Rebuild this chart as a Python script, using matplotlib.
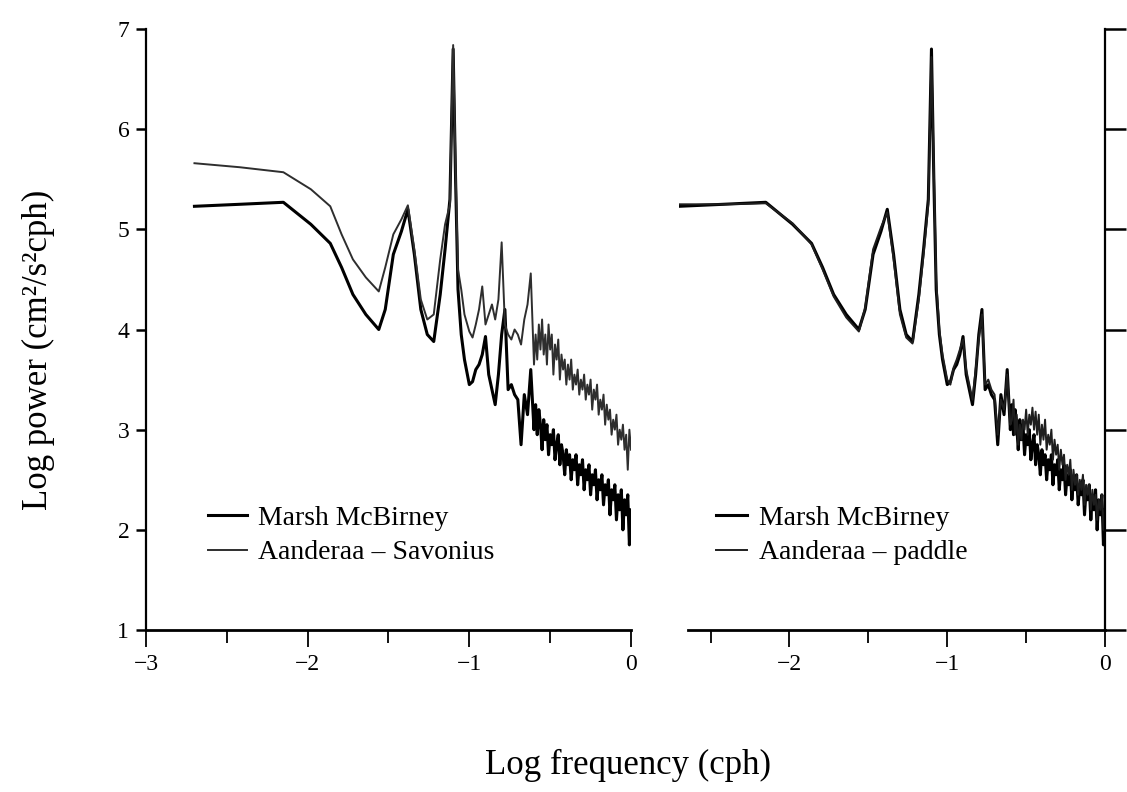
import matplotlib
matplotlib.use("Agg")
import matplotlib.pyplot as plt
from matplotlib.ticker import MultipleLocator

plt.rcParams['font.family'] = ['Liberation Serif', 'DejaVu Serif']

# log frequency grid (cph), shared by all spectra
log_freq = [-2.70, -2.42, -2.15, -1.98, -1.86, -1.79, -1.72, -1.64, -1.56, -1.52,
            -1.47, -1.42, -1.38, -1.34, -1.30, -1.26, -1.22, -1.18, -1.15, -1.12,
            -1.10, -1.085, -1.07, -1.05, -1.03, -1.00, -0.98, -0.96, -0.94, -0.92,
            -0.90, -0.88, -0.86, -0.84, -0.82, -0.80, -0.78, -0.76, -0.74, -0.72,
            -0.70, -0.68, -0.66, -0.64, -0.62, -0.60,
            -0.59, -0.58, -0.57, -0.56, -0.55, -0.54, -0.53, -0.52, -0.51, -0.50,
            -0.49, -0.48, -0.47, -0.46, -0.45, -0.44, -0.43, -0.42, -0.41, -0.40,
            -0.39, -0.38, -0.37, -0.36, -0.35, -0.34, -0.33, -0.32, -0.31, -0.30,
            -0.29, -0.28, -0.27, -0.26, -0.25, -0.24, -0.23, -0.22, -0.21, -0.20,
            -0.19, -0.18, -0.17, -0.16, -0.15, -0.14, -0.13, -0.12, -0.11, -0.10,
            -0.09, -0.08, -0.07, -0.06, -0.05, -0.04, -0.03, -0.02, -0.01, 0.00]

# Marsh McBirney (same record in both panels)
marsh = [5.23, 5.25, 5.27, 5.05, 4.86, 4.62, 4.35, 4.15, 4.00, 4.20,
         4.75, 4.98, 5.20, 4.75, 4.20, 3.95, 3.88, 4.35, 4.80, 5.30,
         6.80, 5.50, 4.40, 3.95, 3.70, 3.45, 3.48, 3.60, 3.65, 3.75,
         3.93, 3.55, 3.40, 3.25, 3.55, 3.95, 4.20, 3.40, 3.45, 3.35,
         3.30, 2.85, 3.35, 3.15, 3.60, 3.00,
         3.25, 2.95, 3.20, 3.05, 2.80, 3.10, 2.90, 3.05, 2.75, 2.95,
         2.85, 3.00, 2.70, 2.85, 2.95, 2.65, 2.85, 2.75, 2.55, 2.80,
         2.65, 2.75, 2.50, 2.70, 2.60, 2.75, 2.45, 2.65, 2.55, 2.70,
         2.40, 2.60, 2.50, 2.65, 2.35, 2.55, 2.45, 2.60, 2.30, 2.50,
         2.40, 2.55, 2.25, 2.45, 2.35, 2.50, 2.15, 2.40, 2.30, 2.45,
         2.10, 2.35, 2.20, 2.40, 2.00, 2.30, 2.15, 2.35, 1.85, 2.20]

# Aanderaa - Savonius (left panel)
savonius = [5.66, 5.62, 5.57, 5.40, 5.23, 4.95, 4.70, 4.52, 4.38, 4.62,
            4.95, 5.10, 5.24, 4.80, 4.30, 4.10, 4.15, 4.70, 5.05, 5.25,
            6.84, 5.60, 4.60, 4.40, 4.15, 3.98, 3.92, 4.05, 4.20, 4.43,
            4.05, 4.15, 4.25, 4.10, 4.30, 4.87, 4.05, 3.95, 3.90, 4.00,
            3.95, 3.85, 4.10, 4.25, 4.56, 3.65,
            3.95, 3.70, 4.05, 3.80, 4.10, 3.75, 3.95, 3.65, 4.05, 3.80,
            3.95, 3.55, 3.85, 3.70, 3.90, 3.50, 3.75, 3.60, 3.70, 3.45,
            3.65, 3.50, 3.70, 3.40, 3.55, 3.45, 3.60, 3.35, 3.50, 3.40,
            3.55, 3.30, 3.45, 3.35, 3.50, 3.20, 3.40, 3.30, 3.45, 3.15,
            3.30, 3.20, 3.35, 3.05, 3.25, 3.10, 3.20, 2.95, 3.10, 3.00,
            3.15, 2.85, 3.00, 2.90, 3.05, 2.80, 2.95, 2.60, 3.00, 2.80]

# Aanderaa - paddle (right panel)
paddle = [5.25, 5.25, 5.26, 5.06, 4.85, 4.60, 4.33, 4.12, 3.98, 4.22,
          4.80, 5.02, 5.17, 4.70, 4.15, 3.92, 3.86, 4.30, 4.75, 5.25,
          6.72, 5.60, 4.50, 4.00, 3.75, 3.50, 3.45, 3.62, 3.70, 3.80,
          3.90, 3.60, 3.45, 3.30, 3.60, 3.90, 4.15, 3.45, 3.50, 3.40,
          3.35, 2.95, 3.30, 3.20, 3.55, 3.05,
          3.10, 3.30, 2.95, 3.15, 2.85, 3.05, 2.90, 3.10, 3.00, 3.20,
          2.95, 3.15, 3.05, 3.22, 3.00, 3.18, 2.95, 3.15, 2.85, 3.05,
          2.90, 3.10, 2.80, 2.95, 2.85, 3.00, 2.70, 2.90, 2.75, 2.85,
          2.60, 2.80, 2.65, 2.75, 2.50, 2.65, 2.55, 2.70, 2.40, 2.60,
          2.45, 2.55, 2.35, 2.50, 2.40, 2.55, 2.25, 2.45, 2.35, 2.45,
          2.20, 2.40, 2.25, 2.35, 2.10, 2.30, 2.20, 2.35, 2.00, 2.25]

fig = plt.figure(figsize=(11.27, 7.92), dpi=100)
ax1 = fig.add_axes([0.1295, 0.2045, 0.4304, 0.7589])
ax2 = fig.add_axes([0.6025, 0.2045, 0.378, 0.7589])

# left panel
ax1.plot(log_freq, marsh, color='black', lw=2.2, label='Marsh McBirney')
ax1.plot(log_freq, savonius, color='#2e2e2e', lw=1.4, label='Aanderaa \u2013 Savonius')
ax1.set_xlim(-3, 0)
ax1.set_ylim(1, 7)
ax1.spines['top'].set_visible(False)
ax1.spines['right'].set_visible(False)
ax1.spines['left'].set_linewidth(1.6)
ax1.spines['bottom'].set_linewidth(2.0)
ax1.set_xticks([-3, -2, -1, 0])
ax1.xaxis.set_minor_locator(MultipleLocator(0.5))
ax1.set_yticks([1, 2, 3, 4, 5, 6, 7])
ax1.tick_params(axis='y', direction='out', length=7, width=1.8, labelsize=17, pad=5)
ax1.tick_params(axis='x', which='major', direction='out', length=12, width=1.3, labelsize=17, pad=5)
ax1.tick_params(axis='x', which='minor', direction='out', length=9, width=1.3)
ax1.legend(loc='upper left', bbox_to_anchor=(0.10, 0.23), frameon=False,
           fontsize=20, handlelength=1.4, handletextpad=0.4, borderpad=0,
           labelspacing=0.32)

# right panel
ax2.plot(log_freq, marsh, color='black', lw=2.2, label='Marsh McBirney')
ax2.plot(log_freq, paddle, color='#1e1e1e', lw=1.4, label='Aanderaa \u2013 paddle')
ax2.set_xlim(-2.70, 0)
ax2.set_ylim(1, 7)
ax2.spines['top'].set_visible(False)
ax2.spines['left'].set_visible(False)
ax2.spines['right'].set_linewidth(1.6)
ax2.spines['bottom'].set_linewidth(2.0)
ax2.spines['bottom'].set_bounds(-2.64, 0)
ax2.set_xticks([-2, -1, 0])
ax2.xaxis.set_minor_locator(MultipleLocator(0.5))
ax2.yaxis.tick_right()
ax2.set_yticks([1, 2, 3, 4, 5, 6, 7])
ax2.tick_params(axis='y', direction='out', length=15, width=1.8, labelright=False)
ax2.tick_params(axis='x', which='major', direction='out', length=12, width=1.3, labelsize=17, pad=5)
ax2.tick_params(axis='x', which='minor', direction='out', length=9, width=1.3)
ax2.legend(loc='upper left', bbox_to_anchor=(0.055, 0.23), frameon=False,
           fontsize=20, handlelength=1.1, handletextpad=0.45, borderpad=0,
           labelspacing=0.32)

fig.text(0.034, 0.558, 'Log power (cm\u00b2/s\u00b2cph)', fontsize=25,
         rotation=90, ha='center', va='center')
fig.text(0.557, 0.034, 'Log frequency (cph)', fontsize=25, ha='center', va='center')

fig.savefig('out.png', dpi=100)
